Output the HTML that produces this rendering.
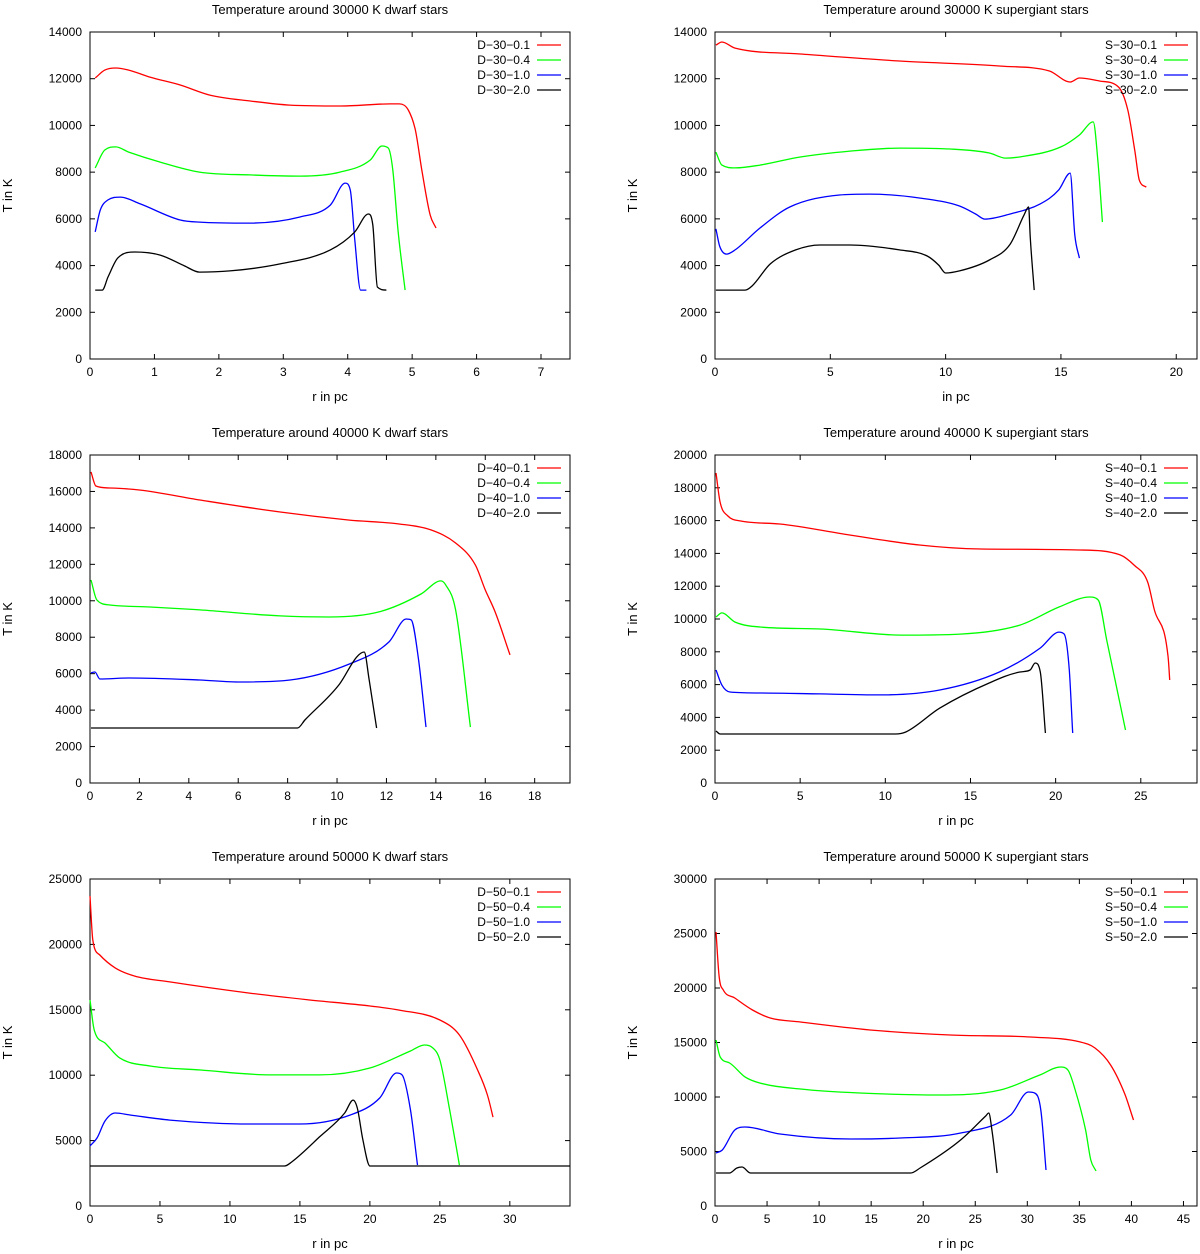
<!DOCTYPE html>
<html><head><meta charset="utf-8"><style>
html,body{margin:0;padding:0;background:#fff;}
svg{display:block;font-family:"Liberation Sans",sans-serif;}
</style></head><body>
<svg id="chart" width="1200" height="1254" viewBox="0 0 1200 1254" xmlns="http://www.w3.org/2000/svg"></svg>
<script>
// ---- data: [r in pc, T in K] ----
const D30_01=[[0.08,12030],[0.23,12370],[0.4,12460],[0.6,12370],[0.93,12070],[1.4,11730],[1.86,11300],[2.5,11040],[3.1,10870],[3.9,10830],[4.66,10920],[4.8,10920],[4.94,10660],[5.05,9800],[5.15,8090],[5.28,6160],[5.37,5610]];
const D30_04=[[0.08,8180],[0.23,8950],[0.4,9080],[0.6,8860],[1.09,8430],[1.7,8000],[2.48,7880],[3.26,7830],[3.88,8000],[4.35,8520],[4.53,9120],[4.63,9030],[4.7,8090],[4.78,5520],[4.89,2950]];
const D30_10=[[0.08,5440],[0.16,6380],[0.28,6810],[0.47,6930],[0.78,6640],[1.4,5950],[1.7,5860],[2.48,5820],[3.26,6080],[3.73,6590],[3.96,7530],[4.04,7230],[4.11,5090],[4.2,2950],[4.29,2950]];
const D30_20=[[0.08,2950],[0.19,2950],[0.28,3510],[0.43,4320],[0.7,4580],[1.09,4450],[1.47,3980],[1.7,3720],[2.17,3770],[2.95,4070],[3.73,4670],[4.11,5440],[4.32,6210],[4.39,5740],[4.46,3080],[4.6,2950]];
const S30_01=[[0.04,13440],[0.3,13570],[0.87,13310],[3.7,13060],[8.0,12760],[12.4,12540],[14.5,12330],[15.4,11860],[15.8,12030],[16.7,11900],[17.5,11640],[17.9,10660],[18.2,8950],[18.4,7660],[18.7,7360]];
const S30_04=[[0.04,8860],[0.3,8300],[0.87,8180],[1.95,8300],[3.7,8650],[5.86,8900],[8.0,9030],[10.2,8990],[11.9,8820],[12.6,8600],[13.2,8650],[15.0,9080],[15.8,9590],[16.4,10150],[16.6,8520],[16.8,5860]];
const S30_10=[[0.04,5570],[0.2,4840],[0.5,4490],[0.87,4670],[1.95,5610],[3.25,6510],[5.4,7020],[6.7,7060],[8.9,6890],[10.6,6550],[11.3,6210],[11.7,5990],[12.8,6210],[14.1,6640],[14.9,7230],[15.4,7960],[15.6,5310],[15.8,4320]];
const S30_20=[[0.04,2950],[1.3,2950],[1.6,3120],[2.4,4070],[3.5,4670],[4.55,4880],[5.86,4880],[8.0,4670],[9.2,4410],[9.7,4020],[10.0,3680],[10.6,3770],[11.9,4240],[12.8,4920],[13.4,6160],[13.6,6510],[13.67,5180],[13.84,2950]];
const D40_01=[[0.04,17070],[0.24,16300],[0.8,16190],[2.0,16080],[4.45,15530],[7.7,14870],[10.5,14430],[12.55,14210],[13.8,13890],[14.8,13170],[15.6,11960],[16.0,10590],[16.4,9390],[17.0,7030]];
const D40_04=[[0.04,11140],[0.28,10040],[0.8,9770],[2.43,9660],[4.45,9500],[7.7,9170],[9.7,9110],[11.7,9390],[13.4,10370],[14.2,11090],[14.4,10870],[14.8,9500],[15.4,3070]];
const D40_10=[[0.04,6040],[0.2,6090],[0.4,5710],[1.6,5760],[4.45,5650],[6.1,5540],[8.1,5650],[10.5,6530],[12.1,7740],[12.8,9000],[13.0,8950],[13.3,6750],[13.6,3070]];
const D40_20=[[0.04,3020],[8.4,3020],[8.7,3460],[10.1,5430],[10.8,6920],[11.1,7190],[11.3,5650],[11.6,3020]];
const S40_01=[[0.06,18900],[0.3,17130],[0.76,16280],[1.47,15980],[3.8,15790],[7.9,15120],[12.0,14510],[15.6,14270],[21.4,14210],[23.8,13900],[24.6,13290],[25.4,12260],[25.8,10550],[26.6,7740],[26.7,6280]];
const S40_04=[[0.06,10120],[0.4,10370],[1.17,9820],[2.64,9510],[6.2,9390],[10.9,9020],[14.4,9080],[17.9,9630],[20.2,10730],[22.0,11340],[22.5,11160],[23.0,8720],[24.1,3230]];
const S40_10=[[0.06,6890],[0.4,5980],[0.88,5550],[2.64,5490],[6.2,5430],[9.7,5370],[13.2,5670],[16.7,6770],[19.1,8230],[20.2,9200],[20.5,9080],[20.8,6890],[21.0,3050]];
const S40_20=[[0.06,3170],[0.3,2990],[10.6,2990],[11.2,3110],[13.2,4570],[16.1,6100],[17.9,6770],[18.5,6890],[18.8,7320],[19.1,6770],[19.4,3050]];
const D50_01=[[0,23700],[0.2,20340],[0.7,19190],[1.8,18200],[3.2,17580],[5.7,17130],[11.4,16280],[15.7,15750],[20.0,15290],[22.1,14980],[25.0,14220],[26.4,13070],[27.7,10400],[28.4,8490],[28.8,6800]];
const D50_04=[[0,15750],[0.3,13460],[1.07,12460],[2.14,11310],[4.3,10700],[7.9,10400],[12.9,10020],[16.4,10020],[20.0,10550],[22.9,11850],[23.9,12310],[24.4,12160],[25.0,11160],[25.7,7340],[26.4,3130]];
const D50_10=[[0,4590],[0.5,5200],[1.07,6500],[1.8,7110],[2.86,6960],[5.7,6570],[11.4,6270],[15.0,6270],[18.6,6960],[20.7,8260],[21.9,10170],[22.3,10020],[22.9,7340],[23.4,3130]];
const D50_20=[[0,3060],[13.9,3060],[14.4,3360],[16.4,5280],[18.2,7110],[18.8,8100],[19.1,7490],[19.5,5050],[20.0,3060],[34.3,3060]];
const S50_01=[[0.1,25140],[0.4,21010],[0.8,19820],[1.9,19080],[3.6,17980],[5.3,17250],[8.2,16880],[14.9,16150],[22.6,15690],[30.3,15500],[35.1,15050],[36.5,14500],[38.0,12940],[39.4,10180],[40.2,7890]];
const S50_04=[[0.1,15230],[0.5,13670],[1.4,13120],[2.9,11830],[4.3,11280],[8.2,10730],[13.9,10370],[21.6,10180],[27.4,10640],[31.2,12020],[33.2,12750],[33.9,12480],[34.6,10640],[35.6,6970],[36.1,4220],[36.6,3210]];
const S50_10=[[0.1,4860],[0.7,5140],[1.9,6970],[2.9,7250],[6.25,6610],[13.0,6150],[17.8,6240],[23.6,6700],[28.4,8350],[30.1,10460],[30.7,10370],[31.3,8810],[31.8,3300]];
const S50_20=[[0.1,3030],[1.4,3030],[2.1,3490],[2.6,3580],[3.4,3030],[18.8,3030],[19.7,3490],[23.6,6060],[26.0,8260],[26.3,8530],[26.6,6970],[27.1,3030]];

const COLORS=['#ff0000','#00ff00','#0000ff','#000000'];
const panels=[
 {id:'d30',title:'Temperature around 30000 K dwarf stars',xl:'r in pc',L:90,R:570,T:32,B:359,xmax:7.45,ymax:14000,xs:1,ys:2000,pre:'D\u221230\u2212',ser:[D30_01,D30_04,D30_10,D30_20]},
 {id:'s30',title:'Temperature around 30000 K supergiant stars',xl:'in pc',L:715,R:1197,T:32,B:359,xmax:20.9,ymax:14000,xs:5,ys:2000,pre:'S\u221230\u2212',ser:[S30_01,S30_04,S30_10,S30_20]},
 {id:'d40',title:'Temperature around 40000 K dwarf stars',xl:'r in pc',L:90,R:570,T:455,B:783,xmax:19.43,ymax:18000,xs:2,ys:2000,pre:'D\u221240\u2212',ser:[D40_01,D40_04,D40_10,D40_20]},
 {id:'s40',title:'Temperature around 40000 K supergiant stars',xl:'r in pc',L:715,R:1197,T:455,B:783,xmax:28.3,ymax:20000,xs:5,ys:2000,pre:'S\u221240\u2212',ser:[S40_01,S40_04,S40_10,S40_20]},
 {id:'d50',title:'Temperature around 50000 K dwarf stars',xl:'r in pc',L:90,R:570,T:879,B:1206,xmax:34.3,ymax:25000,xs:5,ys:5000,pre:'D\u221250\u2212',ser:[D50_01,D50_04,D50_10,D50_20]},
 {id:'s50',title:'Temperature around 50000 K supergiant stars',xl:'r in pc',L:715,R:1197,T:879,B:1206,xmax:46.3,ymax:30000,xs:5,ys:5000,pre:'S\u221250\u2212',ser:[S50_01,S50_04,S50_10,S50_20]}
];
const suffix=['0.1','0.4','1.0','2.0'];
const NS='http://www.w3.org/2000/svg';
const svg=document.getElementById('chart');
function mk(tag,parent,attrs,txt){const e=document.createElementNS(NS,tag);for(const k in attrs)e.setAttribute(k,attrs[k]);if(txt!==undefined)e.textContent=txt;parent.appendChild(e);return e;}
// monotone cubic path (Fritsch-Carlson) on pixel points
function monoPath(P){
 const n=P.length;if(n<2)return '';
 const dx=[],m=[];
 for(let i=0;i<n-1;i++){dx[i]=P[i+1][0]-P[i][0];m[i]=dx[i]?(P[i+1][1]-P[i][1])/dx[i]:0;}
 const t=[m[0]];
 for(let i=1;i<n-1;i++){t[i]=(m[i-1]*m[i]<=0)?0:(m[i-1]+m[i])/2;}
 t[n-1]=m[n-2];
 for(let i=0;i<n-1;i++){
  if(m[i]===0){t[i]=0;t[i+1]=0;continue;}
  const a=t[i]/m[i],b=t[i+1]/m[i],s=a*a+b*b;
  if(s>9){const k=3/Math.sqrt(s);t[i]=k*a*m[i];t[i+1]=k*b*m[i];}
 }
 let d='M'+P[0][0].toFixed(1)+','+P[0][1].toFixed(1);
 for(let i=0;i<n-1;i++){
  const h=dx[i]/3;
  d+=' C'+(P[i][0]+h).toFixed(1)+','+(P[i][1]+t[i]*h).toFixed(1)+' '+(P[i+1][0]-h).toFixed(1)+','+(P[i+1][1]-t[i+1]*h).toFixed(1)+' '+P[i+1][0].toFixed(1)+','+P[i+1][1].toFixed(1);
 }
 return d;
}
panels.forEach(p=>{
 const g=mk('g',svg,{});
 
 
 const X=v=>p.L+v/p.xmax*(p.R-p.L);
 const Y=v=>p.B-v/p.ymax*(p.B-p.T);
 const t=mk('text',g,{x:(p.L+p.R)/2,y:p.T-18,'text-anchor':'middle','font-size':13},p.title);
 
 
 for(let v=0;v<=p.xmax+1e-9;v+=p.xs){
  const x=X(v);
  mk('line',g,{x1:x,x2:x,y1:p.B,y2:p.B-5,stroke:'#000'});
  mk('line',g,{x1:x,x2:x,y1:p.T,y2:p.T+5,stroke:'#000'});
  const tl=mk('text',g,{x:x,y:p.B+17,'text-anchor':'middle','font-size':12},String(v));
  
  
 }
 for(let v=0;v<=p.ymax+1e-9;v+=p.ys){
  const y=Y(v);
  mk('line',g,{x1:p.L,x2:p.L+5,y1:y,y2:y,stroke:'#000'});
  mk('line',g,{x1:p.R,x2:p.R-5,y1:y,y2:y,stroke:'#000'});
  const tl=mk('text',g,{x:p.L-8,y:y+4,'text-anchor':'end','font-size':12},String(v));
  
  
 }
 const fr=mk('rect',g,{x:p.L,y:p.T,width:p.R-p.L,height:p.B-p.T,fill:'none',stroke:'#000'});
 
 
 const xl=mk('text',g,{x:(p.L+p.R)/2,y:p.B+42,'text-anchor':'middle','font-size':13},p.xl);
 
 
 const cy=(p.T+p.B)/2, lx=p.L-78;
 const yl=mk('text',g,{x:lx,y:cy,'text-anchor':'middle','font-size':13,transform:'rotate(-90 '+lx+' '+cy+')'},'T in K');
 
 
 p.ser.forEach((s,i)=>{
  const P=s.map(d=>[X(d[0]),Y(d[1])]);
  const pl=mk('path',g,{d:monoPath(P),fill:'none',stroke:COLORS[i],'stroke-width':1.3});
  
  
  const ly=p.T+13+i*15;
  const lt=mk('text',g,{x:p.R-40,y:ly+4,'text-anchor':'end','font-size':12},p.pre+suffix[i]);
  
  
  mk('line',g,{x1:p.R-33,x2:p.R-9,y1:ly,y2:ly,stroke:COLORS[i],'stroke-width':1.3});
 });
});
</script>
</body></html>
